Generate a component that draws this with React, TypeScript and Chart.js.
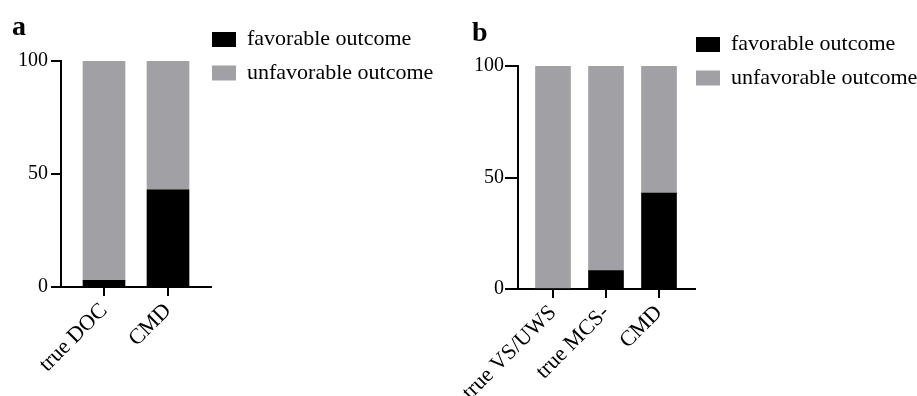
import React, { useEffect, useRef } from 'react';
import { Chart, registerables } from 'chart.js';

Chart.register(...registerables);

// ---------- data ----------
const legendNames = ['favorable outcome', 'unfavorable outcome'];

const categoriesA = ['true DOC', 'CMD'];
const favorableA = [3, 43];
const unfavorableA = [97, 57];

const categoriesB = ['true VS/UWS', 'true MCS-', 'CMD'];
const favorableB = [0, 8.3, 43];
const unfavorableB = [100, 91.7, 57];

const yTickValues = [0, 50, 100];

// ---------- style ----------
const FONT = "'Liberation Serif', 'Times New Roman', serif";
const BLACK = '#000000';
const GRAY = '#a1a1a5';
const H = 396;
const TITLE_SIZE = 28;
const LEGEND_SIZE = 22;
const YTICK_SIZE = 20;
const XTICK_SIZE = 22;
const BOX_W = 24;
const BOX_H = 15;
const LEG_PAD = 1;

type Panel = {
  letter: string;
  categories: string[];
  favorable: number[];
  unfavorable: number[];
  left: number;
  width: number;
  padLeft: number;
  yAxisW: number;
  areaRight: number;
  titleTop: number;
  areaTop: number;
  areaBottom: number;
  legendItemTop: number;
  xMin: number;
  xMax: number;
  bar: number;
  yTickLen: number;
  yTickPad: number;
};

const panels: Panel[] = [
  {
    letter: 'a',
    categories: categoriesA,
    favorable: favorableA,
    unfavorable: unfavorableA,
    left: 0,
    width: 460,
    padLeft: 12,
    yAxisW: 49,
    areaRight: 211,
    titleTop: 10.5,
    areaTop: 61,
    areaBottom: 287,
    legendItemTop: 32,
    xMin: -43 / 64,
    xMax: 1 + 43 / 64,
    bar: 42,
    yTickLen: 10,
    yTickPad: 3,
  },
  {
    letter: 'b',
    categories: categoriesB,
    favorable: favorableB,
    unfavorable: unfavorableB,
    left: 460,
    width: 500,
    padLeft: 12,
    yAxisW: 46,
    areaRight: 235,
    titleTop: 16.5,
    areaTop: 66,
    areaBottom: 289,
    legendItemTop: 37,
    xMin: -35 / 53,
    xMax: 2 + 36 / 53,
    bar: 35,
    yTickLen: 13,
    yTickPad: 1,
  },
];

function measure(text: string, font: string): number {
  const c = document.createElement('canvas').getContext('2d');
  if (!c) return text.length * 10;
  c.font = font;
  return c.measureText(text).width;
}

function buildConfig(p: Panel): any {
  const titleLineH = TITLE_SIZE * 1.2;
  const titleBottom = p.areaTop - p.titleTop - titleLineH;
  const legendFont = `normal ${LEGEND_SIZE}px ${FONT}`;
  const textW = Math.max(...legendNames.map((t) => measure(t, legendFont)));
  // natural legend width (Chart.js): padding + box + size/2 + text + 10
  const legendW = Math.round(LEG_PAD + BOX_W + LEGEND_SIZE / 2 + textW + 10 - 5);
  const padRight = p.width - p.areaRight - legendW;
  const legendTitleLineH = 12;
  const legendTitlePadTop = p.legendItemTop - (LEGEND_SIZE - BOX_H) / 2 - LEG_PAD - legendTitleLineH;
  return {
    type: 'bar',
    data: {
      labels: p.categories,
      datasets: [
        {
          label: legendNames[0],
          data: p.favorable.map((v, i) => ({ x: i, y: v })),
          backgroundColor: BLACK,
          borderWidth: 0,
          barThickness: p.bar,
        },
        {
          label: legendNames[1],
          data: p.unfavorable.map((v, i) => ({ x: i, y: v })),
          backgroundColor: GRAY,
          borderWidth: 0,
          barThickness: p.bar,
        },
      ],
    },
    options: {
      responsive: false,
      maintainAspectRatio: false,
      animation: false,
      events: [],
      layout: { padding: { left: p.padLeft, right: padRight, top: 0, bottom: 0 } },
      plugins: {
        title: {
          display: true,
          text: p.letter,
          align: 'start',
          color: BLACK,
          font: { family: FONT, size: TITLE_SIZE, weight: 'bold', lineHeight: 1.2 },
          padding: { top: p.titleTop, bottom: titleBottom },
        },
        legend: {
          display: true,
          position: 'right',
          align: 'start',
          maxWidth: legendW,
          title: {
            display: true,
            text: ' ',
            font: { size: 10, lineHeight: 1.2 },
            padding: { top: legendTitlePadTop, bottom: 0 },
          },
          labels: {
            boxWidth: BOX_W,
            boxHeight: BOX_H,
            padding: LEG_PAD,
            color: BLACK,
            font: { family: FONT, size: LEGEND_SIZE, lineHeight: 32.5 / LEGEND_SIZE },
            generateLabels: (chart: any) =>
              Chart.defaults.plugins.legend.labels
                .generateLabels(chart)
                .map((l: any) => ({ ...l, text: [l.text], lineWidth: 0 })),
          },
        },
        tooltip: { enabled: false },
      },
      scales: {
        x: {
          type: 'linear',
          stacked: true,
          offset: false,
          bounds: 'data',
          min: p.xMin,
          max: p.xMax,
          afterBuildTicks: (s: any) => {
            s.ticks = p.categories.map((_, i) => ({ value: i }));
          },
          afterFit: (s: any) => {
            s.height = H - p.areaBottom;
            s.paddingLeft = 0;
            s.paddingRight = 0;
          },
          grid: {
            display: true,
            offset: false,
            drawOnChartArea: false,
            drawTicks: true,
            tickLength: 9,
            color: BLACK,
            lineWidth: 2,
          },
          border: { display: true, color: BLACK, width: 2 },
          ticks: {
            autoSkip: false,
            minRotation: 45,
            maxRotation: 45,
            padding: 2,
            color: BLACK,
            font: { family: FONT, size: XTICK_SIZE },
            callback: (v: any) => p.categories[v],
          },
        },
        y: {
          stacked: true,
          min: 0,
          max: 100,
          afterBuildTicks: (s: any) => {
            s.ticks = yTickValues.map((v) => ({ value: v }));
          },
          afterFit: (s: any) => {
            s.width = p.yAxisW;
            s.paddingTop = 0;
            s.paddingBottom = 0;
          },
          grid: {
            display: true,
            drawOnChartArea: false,
            drawTicks: true,
            tickLength: p.yTickLen,
            color: BLACK,
            lineWidth: 2,
          },
          border: { display: true, color: BLACK, width: 2 },
          ticks: {
            padding: p.yTickPad,
            color: BLACK,
            font: { family: FONT, size: YTICK_SIZE },
          },
        },
      },
    },
  };
}

function PanelChart({ p }: { p: Panel }) {
  const ref = useRef<HTMLCanvasElement | null>(null);
  useEffect(() => {
    if (!ref.current) return;
    const chart = new Chart(ref.current, buildConfig(p));
    return () => chart.destroy();
  }, [p]);
  return (
    <canvas
      ref={ref}
      width={p.width}
      height={H}
      style={{ position: 'absolute', left: p.left, top: 0, width: p.width, height: H, display: 'block' }}
    />
  );
}

export default function App() {
  return (
    <div
      style={{
        position: 'absolute',
        left: 0,
        top: 0,
        width: 917,
        height: H,
        overflow: 'hidden',
        background: '#ffffff',
      }}
    >
      {panels.map((p) => (
        <PanelChart key={p.letter} p={p} />
      ))}
    </div>
  );
}
